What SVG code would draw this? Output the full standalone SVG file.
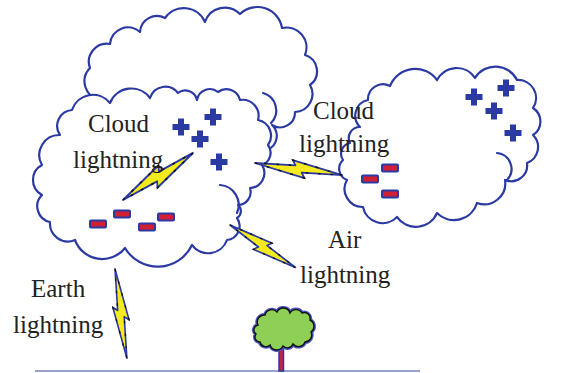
<svg xmlns="http://www.w3.org/2000/svg" xmlns:xlink="http://www.w3.org/1999/xlink" width="562" height="373" viewBox="0 0 562 373">
  <style>
    .cloud { fill: #ffffff; stroke: #2b3aa3; stroke-width: 2.2; stroke-linejoin: round; }
    .fold { fill: none; stroke: #2b3aa3; stroke-width: 2.2; stroke-linecap: round; }
    .plus { fill: #2b3aa3; }
    .minus { fill: #d02035; stroke: #2b3aa3; stroke-width: 2; }
    .bolt { fill: #f4ea1c; stroke: #2b3aa3; stroke-width: 2; stroke-linejoin: round; }
    .bolt-mark { fill: none; stroke: #111111; stroke-width: 1.6; stroke-dasharray: 3 11; }
    .label { font-family: "Liberation Serif", "Times New Roman", serif; font-size: 25px; fill: #222222; }
  </style>
  <defs>
    <!-- lightning bolt, tip to tip along +x, 100 units long -->
    <path id="bolt" d="M0,0 L58,-9 L54,-3.5 L100,0 L42,9 L46,3.5 Z"/>
    <!-- plus charge -->
    <path id="plus" d="M-3,-8.5 H3 V-3 H8.5 V3 H3 V8.5 H-3 V3 H-8.5 V-3 H-3 Z"/>
    <!-- minus charge -->
    <rect id="minus" x="-8" y="-3.5" width="16" height="7" rx="1"/>
  </defs>

  <!-- ground -->
  <line x1="35" y1="371" x2="420" y2="371" stroke="#9aa0cc" stroke-width="2"/>

  <!-- back thundercloud -->
  <g id="cloud-back">
    <path class="cloud" d="M100,100 A19,19 0 0 1 90,68 A18,18 0 0 1 110,44 A18,18 0 0 1 140,32 A17,17 0 0 1 165,18 A23,23 0 0 1 205,22 A21,21 0 0 1 240,14 A25,25 0 0 1 282,28 A20,20 0 0 1 305,55 A17,17 0 0 1 310,85 A18,18 0 0 1 295,112 A15,15 0 0 1 272,125 A15,15 0 0 1 267,150 L200,125 Z"/>
    <path class="fold" d="M263,93 A18,18 0 0 1 271,123"/>
  </g>

  <!-- front thundercloud -->
  <g id="cloud-front">
    <path class="cloud" d="M72,110 A22,22 0 0 1 110,103 A23,23 0 0 1 150,98 A16,16 0 0 1 178,93 A12,12 0 0 1 197,100 A13,13 0 0 1 218,92 A14,14 0 0 1 240,100 A16,16 0 0 1 258,120 A16,16 0 0 1 268,145 A13,13 0 0 1 262,165 A15,15 0 0 1 250,188 A13,13 0 0 1 238,205 A8,8 0 0 1 237,218 A14,14 0 0 1 227,240 A20,20 0 0 1 192,245 A38,38 0 0 1 125,248 A29,29 0 0 1 75,240 A18,18 0 0 1 50,222 A16,16 0 0 1 42,195 A17,17 0 0 1 42,165 A20,20 0 0 1 60,135 A16,16 0 0 1 72,110 Z"/>
    <path class="fold" d="M220,185 A20,20 0 0 1 237,213"/>
    <use href="#plus" class="plus" x="181" y="127"/>
    <use href="#plus" class="plus" x="213" y="117"/>
    <use href="#plus" class="plus" x="200" y="139"/>
    <use href="#plus" class="plus" x="219" y="162"/>
    <use href="#minus" class="minus" x="98" y="224"/>
    <use href="#minus" class="minus" x="122" y="214"/>
    <use href="#minus" class="minus" x="147" y="227"/>
    <use href="#minus" class="minus" x="166" y="217"/>
  </g>

  <!-- right cloud -->
  <g id="cloud-right">
    <path class="cloud" d="M350,143 A11,11 0 0 1 360,127 A16,16 0 0 1 368,100 A15,15 0 0 1 390,86 A27,27 0 0 1 437,80 A22,22 0 0 1 475,78 A24,24 0 0 1 517,80 A18,18 0 0 1 533,108 A16,16 0 0 1 533,135 A17,17 0 0 1 527,163 A16,16 0 0 1 505,180 A21,21 0 0 1 477,203 A24,24 0 0 1 437,213 A23,23 0 0 1 397,217 A20,20 0 0 1 363,207 A18,18 0 0 1 347,180 A12,12 0 0 1 343,160 A11,11 0 0 1 350,143 Z"/>
    <path class="fold" d="M497,153 A16,16 0 0 1 507,180"/>
    <use href="#plus" class="plus" x="474" y="97"/>
    <use href="#plus" class="plus" x="506" y="88"/>
    <use href="#plus" class="plus" x="494" y="111"/>
    <use href="#plus" class="plus" x="513" y="133"/>
    <use href="#minus" class="minus" x="390" y="168"/>
    <use href="#minus" class="minus" x="370" y="179"/>
    <use href="#minus" class="minus" x="390" y="194"/>
  </g>

  <!-- tree -->
  <g id="tree">
    <rect x="279" y="344" width="4.5" height="27" fill="#c42242" stroke="#2b3aa3" stroke-width="1.5"/>
    <path d="M258,325 A7,7 0 0 1 265,315 A7,7 0 0 1 277,312 A7,7 0 0 1 290,313 A7,7 0 0 1 302,313 A6,6 0 0 1 310,320 A7,7 0 0 1 311,332 A7,7 0 0 1 305,342 A7,7 0 0 1 293,344 A6,6 0 0 1 283,346 A7,7 0 0 1 270,345 A6,6 0 0 1 260,342 A5,5 0 0 1 256,334 A5,5 0 0 1 258,325 Z" fill="none" stroke="#4a55c0" stroke-width="4"/>
    <path d="M258,325 A7,7 0 0 1 265,315 A7,7 0 0 1 277,312 A7,7 0 0 1 290,313 A7,7 0 0 1 302,313 A6,6 0 0 1 310,320 A7,7 0 0 1 311,332 A7,7 0 0 1 305,342 A7,7 0 0 1 293,344 A6,6 0 0 1 283,346 A7,7 0 0 1 270,345 A6,6 0 0 1 260,342 A5,5 0 0 1 256,334 A5,5 0 0 1 258,325 Z" fill="#8ecf55" stroke="#111111" stroke-width="1.4"/>
  </g>

  <!-- lightning bolts -->
  <g id="connectors">
    <g id="bolt-cloud-inner" transform="translate(123,200) rotate(-33.9) scale(0.843,1)">
      <use href="#bolt" class="bolt"/>
      <use href="#bolt" class="bolt-mark"/>
    </g>
    <g id="bolt-cloud-cloud" transform="translate(255,163) rotate(7.9) scale(0.88,-0.9)">
      <use href="#bolt" class="bolt"/>
      <use href="#bolt" class="bolt-mark"/>
    </g>
    <g id="bolt-air" transform="translate(230,225) rotate(33) scale(0.78,0.85)">
      <use href="#bolt" class="bolt"/>
      <use href="#bolt" class="bolt-mark"/>
    </g>
    <g id="bolt-earth" transform="translate(115,269) rotate(82.4) scale(0.9,0.8)">
      <use href="#bolt" class="bolt"/>
      <use href="#bolt" class="bolt-mark"/>
    </g>
  </g>

  <!-- labels -->
  <g id="labels">
    <text class="label" x="88" y="132">Cloud</text>
    <text class="label" x="73" y="168">lightning</text>
    <text class="label" x="313" y="119">Cloud</text>
    <text class="label" x="299" y="152">lightning</text>
    <text class="label" x="328" y="248">Air</text>
    <text class="label" x="300" y="283">lightning</text>
    <text class="label" x="31" y="297">Earth</text>
    <text class="label" x="13" y="333">lightning</text>
  </g>
</svg>
